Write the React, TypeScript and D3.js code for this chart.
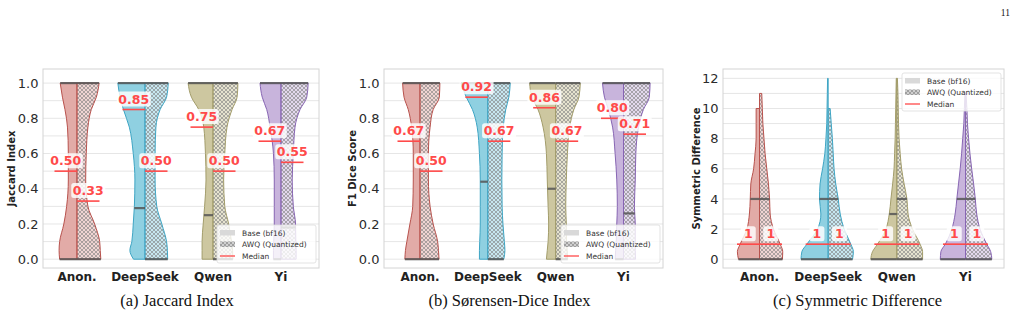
import React from 'react';
import * as d3 from 'd3';

// models (x categories)
const models = ['Anon.', 'DeepSeek', 'Qwen', 'Yi'];
const edgeColors = ['#b8524d', '#3ea5c4', '#a39d6b', '#8765b3'];
const fillColors = ['#e2aba7', '#8fd0e1', '#cdc7a0', '#c8b4dc'];

// value levels where the violin widths were read
const unitLevels = [0, 0.05, 0.1, 0.2, 0.3, 0.45, 0.6, 0.75, 0.85, 0.92, 1.0];
const countLevels = [0, 0.5, 1, 2, 3, 4, 5, 6, 7, 8, 9, 10, 11, 12];

// relative density (0-100) per level, base (bf16) = left half, AWQ = right half
const jaccardBase = [
  [62, 64, 62, 47, 37, 31, 31, 34, 43, 52, 60],
  [41, 54, 47, 42, 38, 36, 42, 56, 77, 89, 97],
  [39, 39, 39, 35, 30, 25, 27, 33, 51, 77, 89],
  [27, 27, 26, 24, 24, 24, 27, 39, 51, 67, 75],
];
const jaccardAwq = [
  [85, 83, 81, 63, 39, 31, 33, 39, 51, 69, 79],
  [81, 80, 77, 60, 42, 36, 36, 39, 54, 77, 83],
  [71, 70, 66, 56, 42, 38, 42, 50, 68, 86, 89],
  [54, 54, 53, 52, 44, 40, 44, 50, 68, 92, 97],
];
const jaccardMedBase = [0.5, 0.85, 0.75, 0.67];
const jaccardMedAwq = [0.33, 0.5, 0.5, 0.55];
const jaccardQuartBase = [[0, 1], [0.29, 1], [0.25, 1], [0, 1]];
const jaccardQuartAwq = [[0, 1], [0, 1], [0, 1], [0.18, 1]];

const diceBase = [
  [54, 52, 47, 36, 26, 24, 24, 30, 42, 57, 62],
  [30, 30, 29, 27, 27, 27, 30, 38, 55, 77, 96],
  [33, 30, 27, 25, 27, 30, 33, 45, 63, 85, 93],
  [30, 28, 26, 24, 22, 24, 30, 39, 54, 68, 75],
];
const diceAwq = [
  [68, 66, 63, 47, 36, 30, 30, 36, 47, 69, 71],
  [57, 61, 59, 54, 51, 50, 51, 55, 64, 75, 80],
  [43, 41, 39, 38, 36, 38, 42, 50, 65, 83, 88],
  [43, 42, 42, 42, 39, 42, 44, 54, 71, 92, 95],
];
const diceMedBase = [0.67, 0.92, 0.86, 0.8];
const diceMedAwq = [0.5, 0.67, 0.67, 0.71];
const diceQuartBase = [[0, 1], [0.44, 1], [0.4, 1], [0, 1]];
const diceQuartAwq = [[0, 1], [0, 1], [0, 1], [0.26, 1]];

const symBase = [
  [75, 79, 69, 45, 36, 33, 31, 21, 16, 12, 12, 12],
  [97, 94, 76, 38, 26, 31, 29, 20, 12, 8, 5, 4, 3, 2],
  [93, 87, 69, 39, 27, 21, 15, 10, 8, 6, 5, 4, 3, 2],
  [90, 88, 72, 49, 37, 31, 25, 19, 14, 10, 6, 4, 2],
];
const symAwq = [
  [82, 83, 74, 50, 38, 36, 32, 26, 20, 16, 12, 10, 8],
  [87, 90, 81, 57, 43, 36, 27, 21, 18, 15, 11, 7],
  [92, 92, 83, 56, 40, 36, 26, 17, 12, 8, 6, 5, 4, 2],
  [94, 90, 76, 52, 40, 35, 29, 22, 16, 11, 7, 5, 2],
];
const symMedBase = [1, 1, 1, 1];
const symMedAwq = [1, 1, 1, 1];
const symQuartBase = [[0, 4], [0, 4], [0, 3], [0, 4]];
const symQuartAwq = [[0, 4], [0, 4], [0, 4], [0, 4]];

const unitTicks = [0, 0.2, 0.4, 0.6, 0.8, 1.0];
const countTicks = [0, 2, 4, 6, 8, 10, 12];

const FONT = "'DejaVu Sans', sans-serif";
const RED = '#ff4a4a';

const panels = [
  {
    id: 'a', left: 43, right: 319, centers: [77, 281], yDomain: [-0.05, 1.08],
    levels: unitLevels, base: jaccardBase, awq: jaccardAwq,
    medBase: jaccardMedBase, medAwq: jaccardMedAwq, qBase: jaccardQuartBase, qAwq: jaccardQuartAwq,
    ticks: unitTicks, grid: 10, fmt: d3.format('.1f'), lab: d3.format('.2f'),
    yLabel: 'Jaccard Index', yLabelX: 11, caption: '(a) Jaccard Index', captionX: 177, legendTop: false,
  },
  {
    id: 'b', left: 384, right: 663, centers: [420, 623.5], yDomain: [-0.05, 1.08],
    levels: unitLevels, base: diceBase, awq: diceAwq,
    medBase: diceMedBase, medAwq: diceMedAwq, qBase: diceQuartBase, qAwq: diceQuartAwq,
    ticks: unitTicks, grid: 10, fmt: d3.format('.1f'), lab: d3.format('.2f'),
    yLabel: 'F1 Dice Score', yLabelX: 352.5, caption: '(b) Sørensen-Dice Index', captionX: 509.5, legendTop: false,
  },
  {
    id: 'c', left: 723, right: 1004, centers: [759.5, 965.5], yDomain: [-0.58, 12.62],
    levels: countLevels, base: symBase, awq: symAwq,
    medBase: symMedBase, medAwq: symMedAwq, qBase: symQuartBase, qAwq: symQuartAwq,
    ticks: countTicks, grid: 13, fmt: d3.format('d'), lab: d3.format('d'),
    yLabel: 'Symmetric Difference', yLabelX: 696, caption: '(c) Symmetric Difference', captionX: 857.5, legendTop: true,
  },
];

const TOP = 69;
const BOTTOM = 268;
const w = d3.scaleLinear().domain([0, 100]).range([0, 28]);

function halfPath(cx: number, side: number, levels: number[], dens: number[], y: any) {
  const pts = dens.map((d, i) => [cx + side * w(d), y(levels[i])] as [number, number]).reverse();
  const edge = d3.line().curve(d3.curveMonotoneY)(pts) as string;
  const top = pts[0][1];
  const bot = pts[pts.length - 1][1];
  return `M${cx},${top}L${edge.slice(1)}L${cx},${bot}Z`;
}

function Panel({ p }: { p: any }) {
  const y = d3.scaleLinear().domain(p.yDomain).range([BOTTOM, TOP]);
  const x = d3.scalePoint().domain(models).range(p.centers);
  const gridVals = y.ticks(p.grid);

  const legendW = 99, legendH = 38;
  const lx = p.right - 3 - legendW;
  const ly = p.legendTop ? TOP + 4 : BOTTOM - 5 - legendH;

  const halves = models.flatMap((m, i) => {
    const cx = x(m) as number;
    return [
      { i, cx, side: -1, dens: p.base[i], med: p.medBase[i], q: p.qBase[i], awq: false },
      { i, cx, side: 1, dens: p.awq[i], med: p.medAwq[i], q: p.qAwq[i], awq: true },
    ];
  });

  return (
    <g>
      <rect x={p.left} y={TOP} width={p.right - p.left} height={BOTTOM - TOP} fill="#fff" />
      {gridVals.map((v: number) => (
        <line key={v} x1={p.left} x2={p.right} y1={y(v)} y2={y(v)} stroke="#e6e6e6" strokeWidth={1} />
      ))}
      <rect x={p.left} y={TOP} width={p.right - p.left} height={BOTTOM - TOP} fill="none" stroke="#d4d4d4" strokeWidth={1} />

      {halves.map((h, k) => {
        const d = halfPath(h.cx, h.side, p.levels, h.dens, y);
        return (
          <g key={'v' + k}>
            <path d={d} fill={fillColors[h.i]} fillOpacity={h.awq ? 0.5 : 1} stroke="none" />
            {h.awq && <path d={d} fill="url(#hatch)" stroke="none" />}
            <path d={d} fill="none" stroke={edgeColors[h.i]} strokeWidth={1} />
          </g>
        );
      })}

      {halves.map((h, k) => {
        const interp = d3.scaleLinear().domain(p.levels.slice(0, h.dens.length)).range(h.dens).clamp(true);
        return h.q.map((qv: number, j: number) => (
          <line key={'q' + k + '-' + j} x1={h.cx} x2={h.cx + h.side * w(interp(qv))} y1={y(qv)} y2={y(qv)}
            stroke="#555" strokeOpacity={0.85} strokeWidth={2.2} />
        ));
      })}

      {halves.map((h, k) => {
        const my = y(h.med);
        const mx = h.cx + h.side * 11.25;
        const txt = String(p.lab(h.med));
        const short = txt.length === 1;
        const bw = short ? 15 : 34;
        return (
          <g key={'m' + k}>
            <line x1={h.cx} x2={h.cx + h.side * 22.5} y1={my} y2={my} stroke={RED} strokeWidth={1.6} />
            <rect x={mx - bw / 2} y={my - 18} width={bw} height={15} rx={2.5} fill="#fff" fillOpacity={0.82} />
            <text x={mx} y={my - 6} textAnchor="middle" fontFamily={FONT} fontWeight="bold" fontSize={12.5} fill={RED}>
              {txt}
            </text>
          </g>
        );
      })}

      {p.ticks.map((t: number) => (
        <text key={'t' + t} x={p.left - 4.5} y={y(t) + 4.6} textAnchor="end" fontFamily={FONT} fontSize={13} fill="#2b2b2b">
          {p.fmt(t)}
        </text>
      ))}
      {models.map((m) => (
        <text key={'x' + m} x={x(m) as number} y={281} textAnchor="middle" fontFamily={FONT} fontWeight="bold" fontSize={12} fill="#222">
          {m}
        </text>
      ))}
      <text transform={`translate(${p.yLabelX + 3.5},${(TOP + BOTTOM) / 2}) rotate(-90)`} textAnchor="middle"
        fontFamily={FONT} fontWeight="bold" fontSize={10} fill="#222">
        {p.yLabel}
      </text>

      <g transform={`translate(${lx},${ly})`}>
        <rect width={legendW} height={legendH} rx={2} fill="#fff" fillOpacity={0.8} stroke="#dcdcdc" strokeWidth={0.8} />
        <rect x={3} y={5} width={15} height={5.5} fill="#d9d9d9" />
        <rect x={3} y={16.5} width={15} height={5.5} fill="#cfcfcf" />
        <rect x={3} y={16.5} width={15} height={5.5} fill="url(#hatch)" />
        <line x1={3} x2={18} y1={31} y2={31} stroke={RED} strokeWidth={1.3} />
        {['Base (bf16)', 'AWQ (Quantized)', 'Median'].map((s, i) => (
          <text key={s} x={25} y={10.5 + i * 11.7} fontFamily={FONT} fontSize={7.5} fill="#333">{s}</text>
        ))}
      </g>

      <text x={p.captionX} y={306} textAnchor="middle" fontFamily="'Liberation Serif', serif" fontSize={16.5} fill="#111">
        {p.caption}
      </text>
    </g>
  );
}

export default function App() {
  return (
    <svg width={1025} height={323} style={{ position: 'absolute', left: 0, top: 0, background: '#fff' }}>
      <defs>
        <pattern id="hatch" width={4} height={4} patternUnits="userSpaceOnUse">
          <path d="M0,0L4,4M4,0L0,4" stroke="#7d7d7d" strokeWidth={0.6} />
        </pattern>
      </defs>
      <rect width={1025} height={323} fill="#fff" />
      {panels.map((p) => <Panel key={p.id} p={p} />)}
      <text x={1010} y={16} textAnchor="end" fontFamily="'Liberation Serif', serif" fontSize={9.5} fill="#111">11</text>
    </svg>
  );
}
